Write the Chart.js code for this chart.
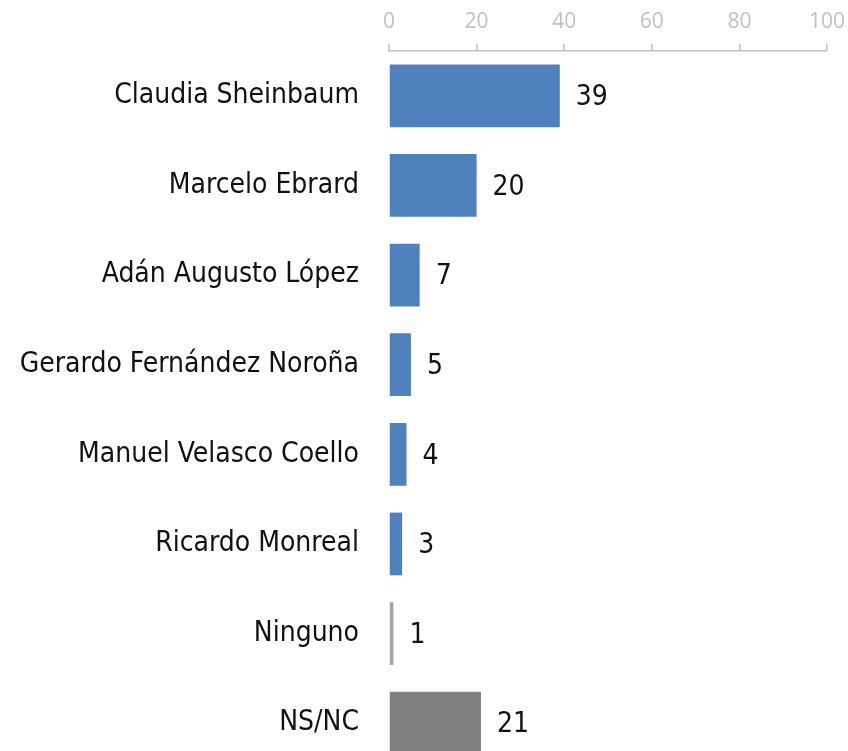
<!DOCTYPE html>
<html>
<head>
<meta charset="utf-8">
<script src="https://cdn.jsdelivr.net/npm/chart.js@4"></script>
<style>
html,body{margin:0;padding:0;background:#fff;overflow:hidden;}
canvas{display:block;}
</style>
</head>
<body>
<canvas id="c" width="848" height="768"></canvas>
<script>
const categories = ["Claudia Sheinbaum","Marcelo Ebrard","Adán Augusto López","Gerardo Fernández Noroña","Manuel Velasco Coello","Ricardo Monreal","Ninguno","NS/NC"];
const values = [39,20,7,5,4,3,1,21];
const barColors = ["#4F81BD","#4F81BD","#4F81BD","#4F81BD","#4F81BD","#4F81BD","#A6A6A6","#808080"];
const xTicks = [0,20,40,60,80,100];

const labelFont = "'Liberation Sans Narrow','DejaVu Sans Condensed',Roboto,sans-serif";

const valueLabels = {
  id:'valueLabels',
  afterDatasetsDraw(chart){
    const ctx = chart.ctx;
    const meta = chart.getDatasetMeta(0);
    ctx.save();
    ctx.font = "28px " + labelFont;
    ctx.fillStyle = "#111";
    ctx.textAlign = "left";
    ctx.textBaseline = "middle";
    meta.data.forEach((bar,i)=>{
      ctx.fillText(String(values[i]), bar.x + 16, bar.y + 2);
    });
    ctx.restore();
  }
};

new Chart(document.getElementById('c'),{
  type:'bar',
  data:{
    labels:categories,
    datasets:[{data:values, backgroundColor:barColors, borderWidth:0, barPercentage:0.7, categoryPercentage:1.0}]
  },
  options:{
    indexAxis:'y',
    responsive:false,
    maintainAspectRatio:false,
    animation:false,
    devicePixelRatio:1,
    layout:{padding:{left:0,right:21,top:0,bottom:0}},
    plugins:{legend:{display:false},tooltip:{enabled:false}},
    scales:{
      x:{
        position:'top',
        min:0,max:100,
        afterBuildTicks(scale){ scale.ticks = xTicks.map(v=>({value:v})); },
        afterFit(scale){ scale.height = 51; scale.paddingRight = 0; scale.paddingLeft = 0; },
        grid:{drawOnChartArea:false, drawTicks:true, tickLength:7, color:'#BFBFBF', lineWidth:1.5},
        border:{display:true, color:'#BFBFBF', width:1.5},
        ticks:{color:'#C0C0C0', font:{family:"'Open Sans',sans-serif", size:21}, padding:9}
      },
      y:{
        afterFit(scale){ scale.width = 389; scale.paddingTop = 0; scale.paddingBottom = 0; },
        grid:{display:false, drawTicks:false},
        border:{display:false},
        ticks:{color:'#111', font:{family:labelFont, size:28}, padding:30}
      }
    }
  },
  plugins:[valueLabels]
});
</script>
</body>
</html>
